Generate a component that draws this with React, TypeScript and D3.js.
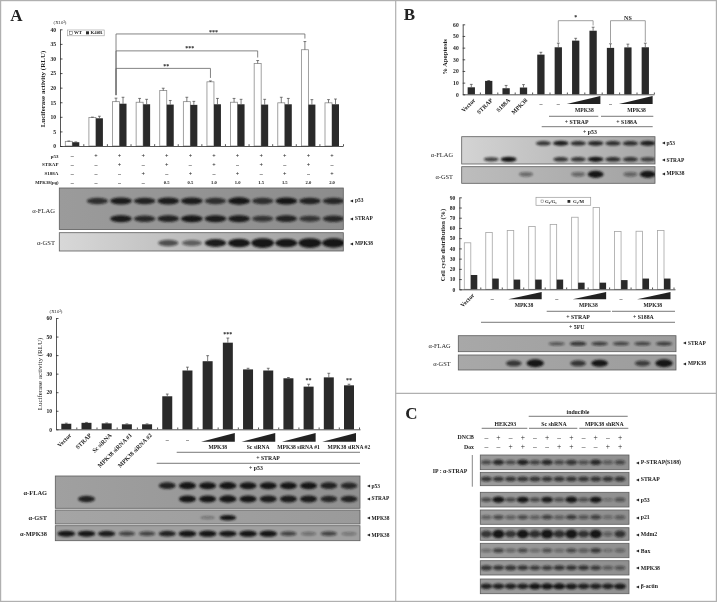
import * as d3 from "d3";
import React from "react";

const SERIF = "'Liberation Serif', serif";
const INK = "#2a2a2a";
const FRAME = "#b0b0b0";

// A top: luciferase, WT vs K40R
const aGroups = d3.range(12);
const aWt = [1.6, 9.8, 15.2, 15, 19, 15.2, 22, 15, 28.3, 14.8, 33, 14.8];
const aWtErr = [0.1, 0.1, 1.2, 1.3, 0.8, 1.5, 0.3, 1.3, 1, 1.9, 2.8, 1.1];
const aK40r = [1.3, 9.5, 14.5, 14.3, 14.2, 14.1, 14.3, 14.3, 14.2, 14.3, 14.2, 14.3];
const aK40rErr = [0.1, 0.7, 2.2, 1.7, 1.4, 1.2, 2, 1.7, 1.8, 2, 1.7, 1.8];
const aTicks = [0, 5, 10, 15, 20, 25, 30, 35, 40];
const aSigTo = [6, 8, 10];
const aSigTop = [26.6, 32.6, 38.4];
const aSigText = ["**", "***", "***"];
const aRowNames = ["p53", "STRAP", "S188A", "MPK38(μg)"];
const aRows = [
  ["–", "+", "+", "+", "+", "+", "+", "+", "+", "+", "+", "+"],
  ["–", "–", "+", "–", "+", "–", "+", "–", "+", "–", "+", "–"],
  ["–", "–", "–", "+", "–", "+", "–", "+", "–", "+", "–", "+"],
  ["–", "–", "–", "–", "0.5", "0.5", "1.0", "1.0", "1.5", "1.5", "2.0", "2.0"],
];
const aBlotP53 = [0, 0.7, 0.85, 0.8, 0.85, 0.85, 0.7, 0.95, 0.7, 0.9, 0.8, 0.75];
const aBlotStrap = [0, 0, 0.85, 0.75, 0.8, 0.9, 0.85, 0.85, 0.65, 0.8, 0.65, 0.75];
const aBlotGst = [0, 0, 0, 0, 0.5, 0.4, 0.85, 1, 1.25, 1, 1.25, 1.2];

// A bottom: luciferase, knock-down
const a2Groups = d3.range(15);
const a2Values = [3, 3.5, 3.2, 2.7, 2.7, 17.8, 31.7, 36.7, 46.7, 32.3, 31.7, 27.5, 23, 28, 23.7];
const a2Err = [0.3, 0.2, 0.2, 0.2, 0.2, 1.2, 1.8, 3, 2.5, 0.6, 1.2, 0.4, 1.3, 2.2, 0.6];
const a2Ticks = [0, 10, 20, 30, 40, 50, 60];
const a2Names = ["Vector", "STRAP", "Sc siRNA", "MPK38 siRNA #1", "MPK38 siRNA #2"];
const a2Stars = [[8, "***"], [12, "**"], [14, "**"]] as [number, string][];
const a2Wedges = [[7, 8, "MPK38"], [9, 10, "Sc siRNA"], [11, 12, "MPK38 siRNA #1"], [13, 14, "MPK38 siRNA #2"]] as [number, number, string][];
const a2BlotP53 = [0, 0, 0, 0, 0, 0.8, 0.95, 0.9, 0.95, 0.9, 0.9, 0.9, 0.9, 0.8, 0.75];
const a2BlotStrap = [0, 0.8, 0, 0, 0, 0, 0.9, 0.9, 0.95, 0.9, 0.85, 0.85, 0.85, 0.75, 0.8];
const a2BlotGst = [0, 0, 0, 0, 0, 0, 0, 0.15, 0.9, 0, 0, 0, 0, 0, 0];
const a2BlotMpk = [0.9, 0.9, 0.85, 0.5, 0.5, 0.8, 0.95, 0.95, 0.9, 0.95, 0.95, 0.5, 0.2, 0.5, 0.15];

// B top: apoptosis
const bGroups = d3.range(11);
const bValues = [6, 11.5, 5.2, 5.8, 34, 40.3, 46, 54.5, 39.8, 40.2, 40.3];
const bErr = [2.5, 0.3, 2.4, 2.5, 2, 3.5, 2, 3, 3.5, 2.8, 3.5];
const bTicks = [0, 10, 20, 30, 40, 50, 60];
const bNames = ["Vector", "STRAP", "S188A", "MPK38"];
const bWedges = [[6, 7], [9, 10]];
const bBlotP53 = [0, 0, 0, 0, 0.7, 0.85, 0.75, 0.8, 0.75, 0.75, 0.85];
const bBlotStrap = [0, 0.65, 1, 0, 0, 0.7, 0.7, 0.95, 0.75, 0.7, 0.65];
const bBlotGst = [0, 0, 0, 0.3, 0, 0, 0.3, 0.95, 0, 0.3, 0.95];

// B middle: cell cycle
const cGroups = d3.range(10);
const cG0 = [45.5, 55.5, 57.5, 61.5, 63.5, 70.5, 80, 56.5, 56.8, 57.5];
const cG2 = [14, 10.5, 9.5, 9.5, 9.5, 6.5, 6.5, 9, 10.5, 10.5];
const cTicks = [0, 10, 20, 30, 40, 50, 60, 70, 80, 90];
const cWedges = [[2, 3], [5, 6], [8, 9]];
const cBlotStrap = [0, 0, 0, 0, 0.4, 0.65, 0.55, 0.5, 0.5, 0.55];
const cBlotGst = [0, 0, 0.6, 1.1, 0, 0.6, 0.9, 0, 0.55, 1.1];

// C: immunoblots
const dLanes = d3.range(12);
const dDncb = ["–", "+", "–", "+", "–", "+", "–", "+", "–", "+", "–", "+"];
const dDox = ["–", "–", "+", "+", "–", "–", "+", "+", "–", "–", "+", "+"];
const dNames = ["P-STRAP(S188)", "STRAP", "p53", "p21", "Mdm2", "Bax", "MPK38", "β-actin"];
const dBands = [
  [0.45, 0.75, 0.45, 0.8, 0.5, 0.75, 0.45, 0.65, 0.4, 0.75, 0.3, 0.45],
  [0.6, 0.6, 0.6, 0.65, 0.65, 0.6, 0.6, 0.6, 0.6, 0.6, 0.6, 0.6],
  [0.45, 0.95, 0.45, 0.9, 0.45, 0.85, 0.4, 0.95, 0.4, 0.9, 0.12, 0.35],
  [0.3, 0.45, 0.3, 0.45, 0.3, 0.5, 0.3, 0.55, 0.35, 0.5, 0.18, 0.3],
  [0.6, 1, 0.6, 1, 0.7, 1.1, 0.7, 1.05, 0.6, 1, 0.25, 0.6],
  [0.2, 0.5, 0.25, 0.45, 0.2, 0.4, 0.2, 0.45, 0.3, 0.55, 0.1, 0.22],
  [0.65, 0.6, 0.65, 0.6, 0.55, 0.55, 0.6, 0.6, 0.6, 0.55, 0.3, 0.35],
  [0.8, 0.8, 0.8, 0.8, 0.95, 0.95, 0.9, 0.85, 0.8, 0.8, 0.8, 0.85],
];

type TxtProps = { x: number; y: number; size?: number; bold?: boolean; anchor?: string; rotate?: number; fill?: string; children: React.ReactNode };

function Txt({ x, y, size = 5.6, bold = true, anchor = "middle", rotate, fill = "#222", children }: TxtProps) {
  return (
    <text
      transform={`translate(${x},${y})${rotate ? ` rotate(${rotate})` : ""}`}
      fontFamily={SERIF}
      fontSize={size}
      fontWeight={bold ? 700 : 400}
      textAnchor={anchor}
      dominantBaseline="central"
      fill={fill}
    >
      {children}
    </text>
  );
}

function YAxis({ x, y, ticks, size = 5.6 }: { x: number; y: d3.ScaleLinear<number, number>; ticks: number[]; size?: number }) {
  return (
    <g
      transform={`translate(${x},0)`}
      ref={(node) => {
        if (!node) return;
        const g = d3.select(node);
        g.selectAll("*").remove();
        g.call(d3.axisLeft(y).tickValues(ticks).tickSize(-2.5).tickSizeOuter(0).tickPadding(4) as any);
        g.selectAll("path,line").attr("stroke", INK).attr("stroke-width", 0.8);
        g.selectAll("text").attr("font-family", SERIF).attr("font-size", size).attr("font-weight", 700).attr("fill", "#222");
      }}
    />
  );
}

function XAxis({ y, scale, ticks }: { y: number; scale: d3.ScaleLinear<number, number>; ticks: number[] }) {
  return (
    <g
      transform={`translate(0,${y})`}
      ref={(node) => {
        if (!node) return;
        const g = d3.select(node);
        g.selectAll("*").remove();
        g.call(d3.axisBottom(scale).tickValues(ticks).tickSize(-1.8).tickSizeOuter(0).tickFormat(() => "") as any);
        g.selectAll("path,line").attr("stroke", INK).attr("stroke-width", 0.8);
      }}
    />
  );
}

function ErrorBar({ x, top, end }: { x: number; top: number; end: number }) {
  return <path d={`M${x},${top}V${end}M${x - 1.4},${end}H${x + 1.4}`} stroke="#444" strokeWidth={0.7} fill="none" />;
}

function Wedge({ x0, x1, top, bottom }: { x0: number; x1: number; top: number; bottom: number }) {
  const path = d3.line()([[x0, bottom], [x1, top], [x1, bottom]]) + "Z";
  return <path d={path} fill="#222" />;
}

function Rule({ x0, x1, y }: { x0: number; x1: number; y: number }) {
  return <line x1={x0} x2={x1} y1={y} y2={y} stroke="#555" strokeWidth={0.8} />;
}

type BlotProps = {
  id: string;
  x0: number;
  x1: number;
  y0: number;
  y1: number;
  tone: [string, string];
  lane: (i: number) => number;
  rows: { y: number; bands: number[] }[];
  bandW: number;
  bandH: number;
};

// a gel strip: background plus one blurred band per lane
function Blot({ id, x0, x1, y0, y1, tone, lane, rows, bandW, bandH }: BlotProps) {
  return (
    <g>
      <defs>
        <linearGradient id={id} x1="0" x2="1" y1="0" y2="0">
          <stop offset="0" stopColor={tone[0]} />
          <stop offset="1" stopColor={tone[1]} />
        </linearGradient>
        <clipPath id={`${id}-clip`}>
          <rect x={x0} y={y0} width={x1 - x0} height={y1 - y0} />
        </clipPath>
      </defs>
      <rect x={x0} y={y0} width={x1 - x0} height={y1 - y0} fill={`url(#${id})`} stroke="#5c5c5c" strokeWidth={0.8} />
      <g clipPath={`url(#${id}-clip)`}>
        <g filter="url(#bandBlur)">
          {rows.map((row, r) =>
            row.bands.map((v, i) =>
              v > 0 ? (
                <ellipse
                  key={`${r}-${i}`}
                  cx={lane(i)}
                  cy={row.y}
                  rx={(bandW / 2) * (0.88 + 0.18 * Math.min(v, 1.2))}
                  ry={(bandH / 2) * (0.55 + 0.6 * v)}
                  fill="#161616"
                  opacity={Math.min(1, 0.2 + 0.9 * v)}
                />
              ) : null,
            ),
          )}
        </g>
      </g>
    </g>
  );
}

function Mark({ x, y, label, size = 5.4 }: { x: number; y: number; label: string; size?: number }) {
  return (
    <g>
      <Txt x={x} y={y} size={size - 1.4} anchor="start" bold={false}>◀</Txt>
      <Txt x={x + 5} y={y} size={size} anchor="start">{label}</Txt>
    </g>
  );
}

function PanelATop() {
  const y = d3.scaleLinear().domain([0, 40]).range([146, 29.3]);
  const band = d3.scaleLinear().domain([0, 11]).range([65.3, 325]);
  const w = 7;
  const wtMid = (i: number) => band(i) + w / 2;
  const topOf = (i: number) => y(aWt[i] + aWtErr[i]) - 3;
  const rowY = d3.scalePoint<number>().domain([0, 1, 2, 3]).range([156, 182.5]);
  const axisX = d3.scaleLinear().domain([60, 343]).range([60, 343]);
  const lane = (i: number) => band(i) + w + 1.5;
  return (
    <g>
      <Txt x={16.5} y={15} size={17} anchor="middle">A</Txt>
      <Txt x={60} y={22} size={4.8} bold={false}>(X10³)</Txt>
      <Txt x={43} y={89} size={7} rotate={-90}>Luciferase activity (RLU)</Txt>
      {aGroups.map((i) => (
        <g key={i}>
          <rect x={band(i)} y={y(aWt[i])} width={w} height={y(0) - y(aWt[i])} fill="#fff" stroke="#8a8a8a" strokeWidth={0.8} />
          <rect x={band(i) + w} y={y(aK40r[i])} width={w} height={y(0) - y(aK40r[i])} fill={INK} />
          <ErrorBar x={wtMid(i)} top={y(aWt[i])} end={y(aWt[i] + aWtErr[i])} />
          <ErrorBar x={band(i) + w * 1.5} top={y(aK40r[i])} end={y(aK40r[i] + aK40rErr[i])} />
        </g>
      ))}
      <YAxis x={60} y={y} ticks={aTicks} />
      <XAxis y={y(0)} scale={axisX} ticks={aGroups.map((i) => band(i) + 18)} />
      {aSigTo.map((to, k) => (
        <g key={to}>
          <path
            d={`M${wtMid(2)},${topOf(2)}V${y(aSigTop[k])}H${wtMid(to)}V${topOf(to)}`}
            fill="none"
            stroke="#666"
            strokeWidth={0.8}
          />
          <Txt x={(wtMid(2) + wtMid(to)) / 2 + 3} y={y(aSigTop[k]) - 2.4} size={6}>{aSigText[k]}</Txt>
        </g>
      ))}
      <rect x={67.7} y={30} width={36.5} height={5.8} fill="#fff" stroke="#999" strokeWidth={0.6} />
      <rect x={69.5} y={31.3} width={3} height={3} fill="#fff" stroke="#555" strokeWidth={0.5} />
      <Txt x={74} y={32.9} size={4.8} anchor="start">WT</Txt>
      <rect x={86} y={31.3} width={3} height={3} fill={INK} />
      <Txt x={90.5} y={32.9} size={4.8} anchor="start">K40R</Txt>
      {aRowNames.map((name, r) => (
        <g key={name}>
          <Txt x={58.5} y={rowY(r)!} size={name.length > 6 ? 4.6 : 5} anchor="end">{name}</Txt>
          {aRows[r].map((s, i) => (
            <Txt key={i} x={band(i) + w} y={rowY(r)!} size={s.length > 1 ? 4.6 : 6}>{s}</Txt>
          ))}
        </g>
      ))}
      <Blot
        id="a1flag"
        x0={59.3}
        x1={343.3}
        y0={188}
        y1={229.5}
        tone={["#9b9b9b", "#8c8c8c"]}
        lane={lane}
        rows={[{ y: 201, bands: aBlotP53 }, { y: 218.7, bands: aBlotStrap }]}
        bandW={21}
        bandH={6.5}
      />
      <Blot
        id="a1gst"
        x0={59.3}
        x1={343.3}
        y0={232.7}
        y1={251}
        tone={["#d8d8d8", "#9c9c9c"]}
        lane={lane}
        rows={[{ y: 243, bands: aBlotGst }]}
        bandW={21}
        bandH={7.5}
      />
      <Txt x={55} y={210.5} size={6.6} anchor="end" bold={false}>α-FLAG</Txt>
      <Txt x={55} y={242} size={6.6} anchor="end" bold={false}>α-GST</Txt>
      <Mark x={350} y={200} label="p53" />
      <Mark x={350} y={218} label="STRAP" />
      <Mark x={350} y={243} label="MPK38" />
    </g>
  );
}

function PanelABottom() {
  const y = d3.scaleLinear().domain([0, 60]).range([429.3, 318]);
  const x = d3.scaleLinear().domain([0, 14]).range([66.3, 349]);
  const axisX = d3.scaleLinear().domain([56, 360]).range([56, 360]);
  const bw = 10;
  return (
    <g>
      <Txt x={56} y={311} size={4.8} bold={false}>(X10³)</Txt>
      <Txt x={40} y={374} size={7} bold={false} rotate={-90}>Luciferase activity (RLU)</Txt>
      {a2Groups.map((i) => (
        <g key={i}>
          <rect x={x(i) - bw / 2} y={y(a2Values[i])} width={bw} height={y(0) - y(a2Values[i])} fill={INK} />
          <ErrorBar x={x(i)} top={y(a2Values[i])} end={y(a2Values[i] + a2Err[i])} />
        </g>
      ))}
      <YAxis x={56} y={y} ticks={a2Ticks} />
      <XAxis y={y(0)} scale={axisX} ticks={a2Groups.map((i) => x(i) + 10)} />
      {a2Stars.map(([i, s]) => (
        <Txt key={i} x={x(i)} y={y(a2Values[i] + a2Err[i]) - 4.5} size={6}>{s}</Txt>
      ))}
      {a2Names.map((name, i) => (
        <Txt key={name} x={x(i) + 4} y={y(0) + 5} size={6} anchor="end" rotate={-45}>{name}</Txt>
      ))}
      <Txt x={x(5)} y={440} size={6}>–</Txt>
      <Txt x={x(6)} y={440} size={6}>–</Txt>
      {a2Wedges.map(([a, b, name], k) => (
        <g key={name}>
          <Wedge x0={x(a) - 6.5} x1={x(b) + 7} top={433} bottom={441.7} />
          <Txt x={(x(a) + x(b)) / 2 + (k === 3 ? 10 : 0)} y={446.7} size={5.6}>{name}</Txt>
        </g>
      ))}
      <Rule x0={176.7} x1={360} y={452.3} />
      <Txt x={268} y={457.7} size={5.8}>+ STRAP</Txt>
      <Rule x0={156.7} x1={360} y={463.3} />
      <Txt x={256} y={468} size={5.8}>+ p53</Txt>
      <Blot
        id="a2flag"
        x0={55.3}
        x1={360}
        y0={476}
        y1={508.3}
        tone={["#a0a0a0", "#909090"]}
        lane={x}
        rows={[{ y: 485.7, bands: a2BlotP53 }, { y: 499, bands: a2BlotStrap }]}
        bandW={16.5}
        bandH={6.5}
      />
      <Blot id="a2gst" x0={55.3} x1={360} y0={510} y1={524} tone={["#a5a5a5", "#9a9a9a"]} lane={x} rows={[{ y: 517.7, bands: a2BlotGst }]} bandW={16} bandH={5} />
      <Blot id="a2mpk" x0={55.3} x1={360} y0={525.7} y1={540.7} tone={["#a0a0a0", "#a0a0a0"]} lane={x} rows={[{ y: 533.7, bands: a2BlotMpk }]} bandW={17} bandH={5.5} />
      <Txt x={47} y={492.7} size={6.4} anchor="end">α-FLAG</Txt>
      <Txt x={47} y={517.5} size={6.4} anchor="end">α-GST</Txt>
      <Txt x={47} y={533.7} size={6.4} anchor="end">α-MPK38</Txt>
      <Mark x={366.5} y={485.7} label="p53" />
      <Mark x={366.5} y={498} label="STRAP" />
      <Mark x={366.5} y={517.7} label="MPK38" />
      <Mark x={366.5} y={534.7} label="MPK38" />
    </g>
  );
}

function PanelBTop() {
  const y = d3.scaleLinear().domain([0, 60]).range([94.3, 24.3]);
  const x = d3.scaleLinear().domain([0, 10]).range([471.3, 645.3]);
  const axisX = d3.scaleLinear().domain([462.7, 654]).range([462.7, 654]);
  const bw = 7.3;
  return (
    <g>
      <Txt x={409.5} y={14} size={17}>B</Txt>
      <Txt x={444} y={57} size={6.6} rotate={-90}>% Apoptosis</Txt>
      {bGroups.map((i) => (
        <g key={i}>
          <rect x={x(i) - bw / 2} y={y(bValues[i])} width={bw} height={y(0) - y(bValues[i])} fill={INK} />
          <ErrorBar x={x(i)} top={y(bValues[i])} end={y(bValues[i] + bErr[i])} />
        </g>
      ))}
      <YAxis x={462.7} y={y} ticks={bTicks} />
      <XAxis y={y(0)} scale={axisX} ticks={bGroups.map((i) => x(i) + 8.6)} />
      {bNames.map((name, i) => (
        <Txt key={name} x={x(i) + 3} y={y(0) + 5} size={6} anchor="end" rotate={-45}>{name}</Txt>
      ))}
      {[4, 5, 8].map((i) => (
        <Txt key={i} x={x(i)} y={103.5} size={6}>–</Txt>
      ))}
      {bWedges.map(([a, b]) => (
        <g key={a}>
          <Wedge x0={x(a) - 9} x1={x(b) + 7.3} top={96} bottom={104} />
          <Txt x={(x(a) + x(b)) / 2} y={109.5} size={5.6}>MPK38</Txt>
        </g>
      ))}
      <path d={`M${x(5)},${y(44.5)}V20.7H${x(7)}V${y(59)}`} fill="none" stroke="#888" strokeWidth={0.8} />
      <Txt x={(x(5) + x(7)) / 2} y={17} size={6}>*</Txt>
      <path d={`M${x(8)},${y(44)}V20.7H${x(10)}V${y(45)}`} fill="none" stroke="#888" strokeWidth={0.8} />
      <Txt x={(x(8) + x(10)) / 2} y={17.5} size={6}>NS</Txt>
      <Rule x0={549} x1={598.3} y={116.3} />
      <Rule x0={601} x1={653.3} y={116.3} />
      <Txt x={576.7} y={121.7} size={5.8}>+ STRAP</Txt>
      <Txt x={626.7} y={121.7} size={5.8}>+ S188A</Txt>
      <Rule x0={541.7} x1={652.7} y={126.7} />
      <Txt x={590} y={131.7} size={5.8}>+ p53</Txt>
      <Blot
        id="bflag"
        x0={461.7}
        x1={655}
        y0={136.7}
        y1={164}
        tone={["#d4d4d4", "#a6a6a6"]}
        lane={(i) => x(i) + 2.5}
        rows={[{ y: 143.3, bands: bBlotP53 }, { y: 159.3, bands: bBlotStrap }]}
        bandW={15}
        bandH={4.6}
      />
      <Blot
        id="bgst"
        x0={461.7}
        x1={655}
        y0={166.7}
        y1={183.3}
        tone={["#bdbdbd", "#a2a2a2"]}
        lane={(i) => x(i) + 2.5}
        rows={[{ y: 174.3, bands: bBlotGst }]}
        bandW={15}
        bandH={6.5}
      />
      <Txt x={453} y={154} size={6.4} anchor="end" bold={false}>α-FLAG</Txt>
      <Txt x={453} y={176.7} size={6.4} anchor="end" bold={false}>α-GST</Txt>
      <Mark x={661.5} y={142.7} label="p53" />
      <Mark x={661.5} y={159.7} label="STRAP" />
      <Mark x={661.5} y={173.3} label="MPK38" />
    </g>
  );
}

function PanelBMiddle() {
  const y = d3.scaleLinear().domain([0, 90]).range([289.3, 197.3]);
  const x = d3.scaleLinear().domain([0, 9]).range([464.3, 657.5]);
  const axisX = d3.scaleLinear().domain([459.3, 675]).range([459.3, 675]);
  const w = 6.5;
  return (
    <g>
      <Txt x={442.7} y={245} size={6.4} rotate={-90}>Cell cycle distribution (%)</Txt>
      {cGroups.map((i) => (
        <g key={i}>
          <rect x={x(i)} y={y(cG0[i])} width={w} height={y(0) - y(cG0[i])} fill="#fff" stroke="#a5a5a5" strokeWidth={0.8} />
          <rect x={x(i) + w} y={y(cG2[i])} width={w} height={y(0) - y(cG2[i])} fill={INK} />
        </g>
      ))}
      <YAxis x={459.3} y={y} ticks={cTicks} />
      <XAxis y={y(0)} scale={axisX} ticks={cGroups.map((i) => x(i) + 16)} />
      <rect x={536} y={197.3} width={54.7} height={8} fill="#fff" stroke="#999" strokeWidth={0.7} />
      <rect x={541} y={200} width={2.6} height={2.6} fill="#fff" stroke="#555" strokeWidth={0.4} />
      <Txt x={545} y={201.3} size={4.8} anchor="start">G₀/G₁</Txt>
      <rect x={567.5} y={200} width={2.8} height={2.8} fill={INK} />
      <Txt x={573} y={201.3} size={4.8} anchor="start">G₂/M</Txt>
      <Txt x={x(0) + 9} y={y(0) + 5} size={6} anchor="end" rotate={-45}>Vector</Txt>
      {[1, 4, 7].map((i) => (
        <Txt key={i} x={x(i) + w} y={299} size={6}>–</Txt>
      ))}
      {cWedges.map(([a, b]) => (
        <g key={a}>
          <Wedge x0={x(a) + 1} x1={x(b) + 13} top={292} bottom={299.3} />
          <Txt x={(x(a) + x(b)) / 2 + 6} y={305} size={5.6}>MPK38</Txt>
        </g>
      ))}
      <Rule x0={546.7} x1={610.7} y={311.3} />
      <Rule x0={612} x1={675} y={311.3} />
      <Txt x={578} y={316.7} size={5.8}>+ STRAP</Txt>
      <Txt x={643.3} y={316.7} size={5.8}>+ S188A</Txt>
      <Rule x0={481} x1={675} y={322.3} />
      <Txt x={576.7} y={327.3} size={5.8}>+ 5FU</Txt>
      <Blot
        id="cflag"
        x0={458.3}
        x1={676}
        y0={335.7}
        y1={351.7}
        tone={["#a8a8a8", "#9c9c9c"]}
        lane={(i) => x(i) + w}
        rows={[{ y: 343.7, bands: cBlotStrap }]}
        bandW={17}
        bandH={4.5}
      />
      <Blot
        id="cgst"
        x0={458.3}
        x1={676}
        y0={355}
        y1={370}
        tone={["#a8a8a8", "#9c9c9c"]}
        lane={(i) => x(i) + w}
        rows={[{ y: 363.3, bands: cBlotGst }]}
        bandW={16}
        bandH={6.5}
      />
      <Txt x={450.7} y={345.7} size={6.4} anchor="end" bold={false}>α-FLAG</Txt>
      <Txt x={450.7} y={363.3} size={6.4} anchor="end" bold={false}>α-GST</Txt>
      <Mark x={683} y={342.7} label="STRAP" />
      <Mark x={683} y={363} label="MPK38" />
    </g>
  );
}

function PanelC() {
  const x = d3.scaleLinear().domain([0, 11]).range([486.3, 620]);
  const stripTop = d3.scaleOrdinal<number, number>().domain(d3.range(8)).range([455, 472.3, 492.3, 510, 527.7, 543.3, 560.7, 579]);
  const stripBottom = d3.scaleOrdinal<number, number>().domain(d3.range(8)).range([469.7, 485.7, 507, 524.3, 540.3, 557.7, 575, 593.7]);
  return (
    <g>
      <Txt x={411.5} y={413} size={17}>C</Txt>
      <Txt x={578} y={412} size={5.8}>inducible</Txt>
      <Rule x0={528.7} x1={627.7} y={416.3} />
      <Txt x={505.3} y={423.7} size={5.8}>HEK293</Txt>
      <Txt x={554} y={423.7} size={5.8}>Sc shRNA</Txt>
      <Txt x={604.3} y={423.7} size={5.8}>MPK38 shRNA</Txt>
      <Rule x0={481.7} x1={527.3} y={428.3} />
      <Rule x0={529} x1={577.3} y={428.3} />
      <Rule x0={579.3} x1={628.3} y={428.3} />
      <Txt x={474} y={437.3} size={5.8} anchor="end">DNCB</Txt>
      <Txt x={474} y={446.7} size={5.8} anchor="end">Dox</Txt>
      {dLanes.map((i) => (
        <g key={i}>
          <Txt x={x(i)} y={437.3} size={7.5} bold={false}>{dDncb[i]}</Txt>
          <Txt x={x(i)} y={446.7} size={7.5} bold={false}>{dDox[i]}</Txt>
        </g>
      ))}
      <Txt x={467.3} y={471} size={5.8} anchor="end">IP : α-STRAP</Txt>
      <line x1={472.3} x2={472.3} y1={455} y2={486.7} stroke="#888" strokeWidth={1} />
      {dNames.map((name, r) => {
        const top = stripTop(r);
        const bottom = stripBottom(r);
        const mid = (top + bottom) / 2;
        return (
          <g key={name}>
            <Blot
              id={`d${r}`}
              x0={480.3}
              x1={629}
              y0={top}
              y1={bottom}
              tone={["#9b9b9b", "#8f8f8f"]}
              lane={x}
              rows={[{ y: mid, bands: dBands[r] }]}
              bandW={11.5}
              bandH={r === 4 ? 7.5 : 5.5}
            />
            <Mark x={635.7} y={mid} label={name} size={5.8} />
          </g>
        );
      })}
    </g>
  );
}

export default function App() {
  return (
    <svg width={717} height={602} viewBox="0 0 717 602" style={{ position: "fixed", left: 0, top: 0, background: "#fff" }}>
      <defs>
        <filter id="bandBlur" x="-5%" y="-25%" width="110%" height="150%">
          <feGaussianBlur stdDeviation="1" />
        </filter>
        <filter id="soft" filterUnits="userSpaceOnUse" x="0" y="0" width="717" height="602">
          <feGaussianBlur stdDeviation="0.28" />
        </filter>
      </defs>
      <g filter="url(#soft)">
        <PanelATop />
        <PanelABottom />
        <PanelBTop />
        <PanelBMiddle />
        <PanelC />
      </g>
      <g stroke={FRAME} strokeWidth={1.2} fill="none">
        <rect x={0.6} y={0.6} width={715.8} height={600.8} />
        <line x1={395.7} x2={395.7} y1={0} y2={602} />
        <line x1={395.7} x2={717} y1={393.3} y2={393.3} />
      </g>
    </svg>
  );
}
